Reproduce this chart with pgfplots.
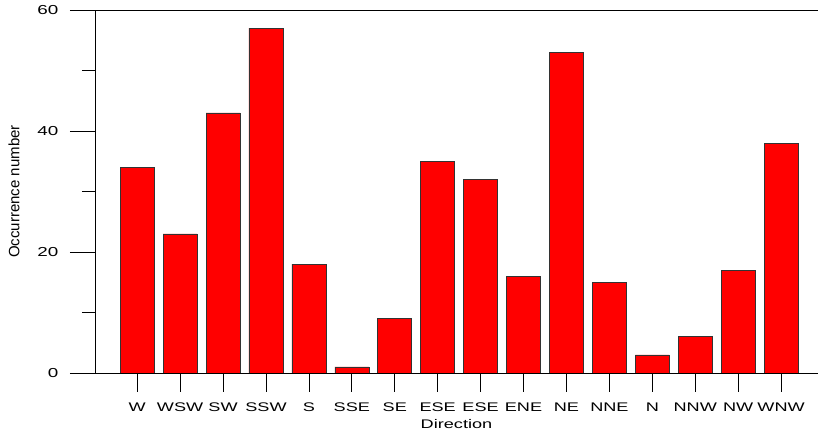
\documentclass[border=0pt]{standalone}
\usepackage{fontspec}
\setmainfont{Liberation Sans}[FakeStretch=1.45]
\newfontfamily\ylabfont{Liberation Sans}
\usepackage{pgfplots}
\pgfplotsset{compat=1.18}
\begin{document}
\begin{tikzpicture}
\begin{axis}[
  at={(0,0)}, anchor=south west,
  scale only axis,
  width=723pt, height=363pt,
  xmin=-0.983, xmax=15.86,
  ymin=0, ymax=60,
  axis y line*=left,
  axis x line=none,
  ytick={0,20,40,60},
  minor ytick={10,30,50},
  tick align=outside,
  major tick length=25pt,
  minor tick length=13pt,
  every tick/.style={black, line width=0.8pt},
  axis line style={line width=0.8pt},
  /pgf/number format/assume math mode=true,
  yticklabel style={font=\fontsize{13}{15}\selectfont, anchor=east, xshift=-8pt},
  clip=false,
]
\addplot[ybar, bar width=34pt, fill=red, draw=black!80, line width=0.6pt] coordinates {
(0,34) (1,23) (2,43) (3,57) (4,18) (5,1) (6,9) (7,35)
(8,32) (9,16) (10,53) (11,15) (12,3) (13,6) (14,17) (15,38)};
\draw[line width=0.8pt] (rel axis cs:0,1) -- (rel axis cs:1,1);
\draw[line width=0.8pt] (rel axis cs:0,0) -- (rel axis cs:1,0);
\foreach \i/\lab in {0/W,1/WSW,2/SW,3/SSW,4/S,5/SSE,6/SE,7/ESE,8/ESE,9/ENE,10/NE,11/NNE,12/N,13/NNW,14/NW,15/WNW} {
  \edef\tmp{\noexpand\draw[line width=0.8pt] (axis cs:\i,0) -- ([yshift=-19pt]axis cs:\i,0) node[below, inner sep=0pt, yshift=-10.5pt, font=\noexpand\fontsize{12.5}{14}\noexpand\selectfont] {\lab};}
  \tmp
}
\node[anchor=base, font=\fontsize{12.5}{14}\selectfont] at ([yshift=-55pt]rel axis cs:0.5,0) {Direction};
\node[rotate=90, anchor=center, font=\ylabfont\fontsize{15}{17}\selectfont] at ([xshift=-81pt]rel axis cs:0,0.5) {Occurrence number};
\end{axis}
\pgfresetboundingbox
\path (-95pt,-58pt) rectangle (723pt,373pt);
\end{tikzpicture}
\end{document}
